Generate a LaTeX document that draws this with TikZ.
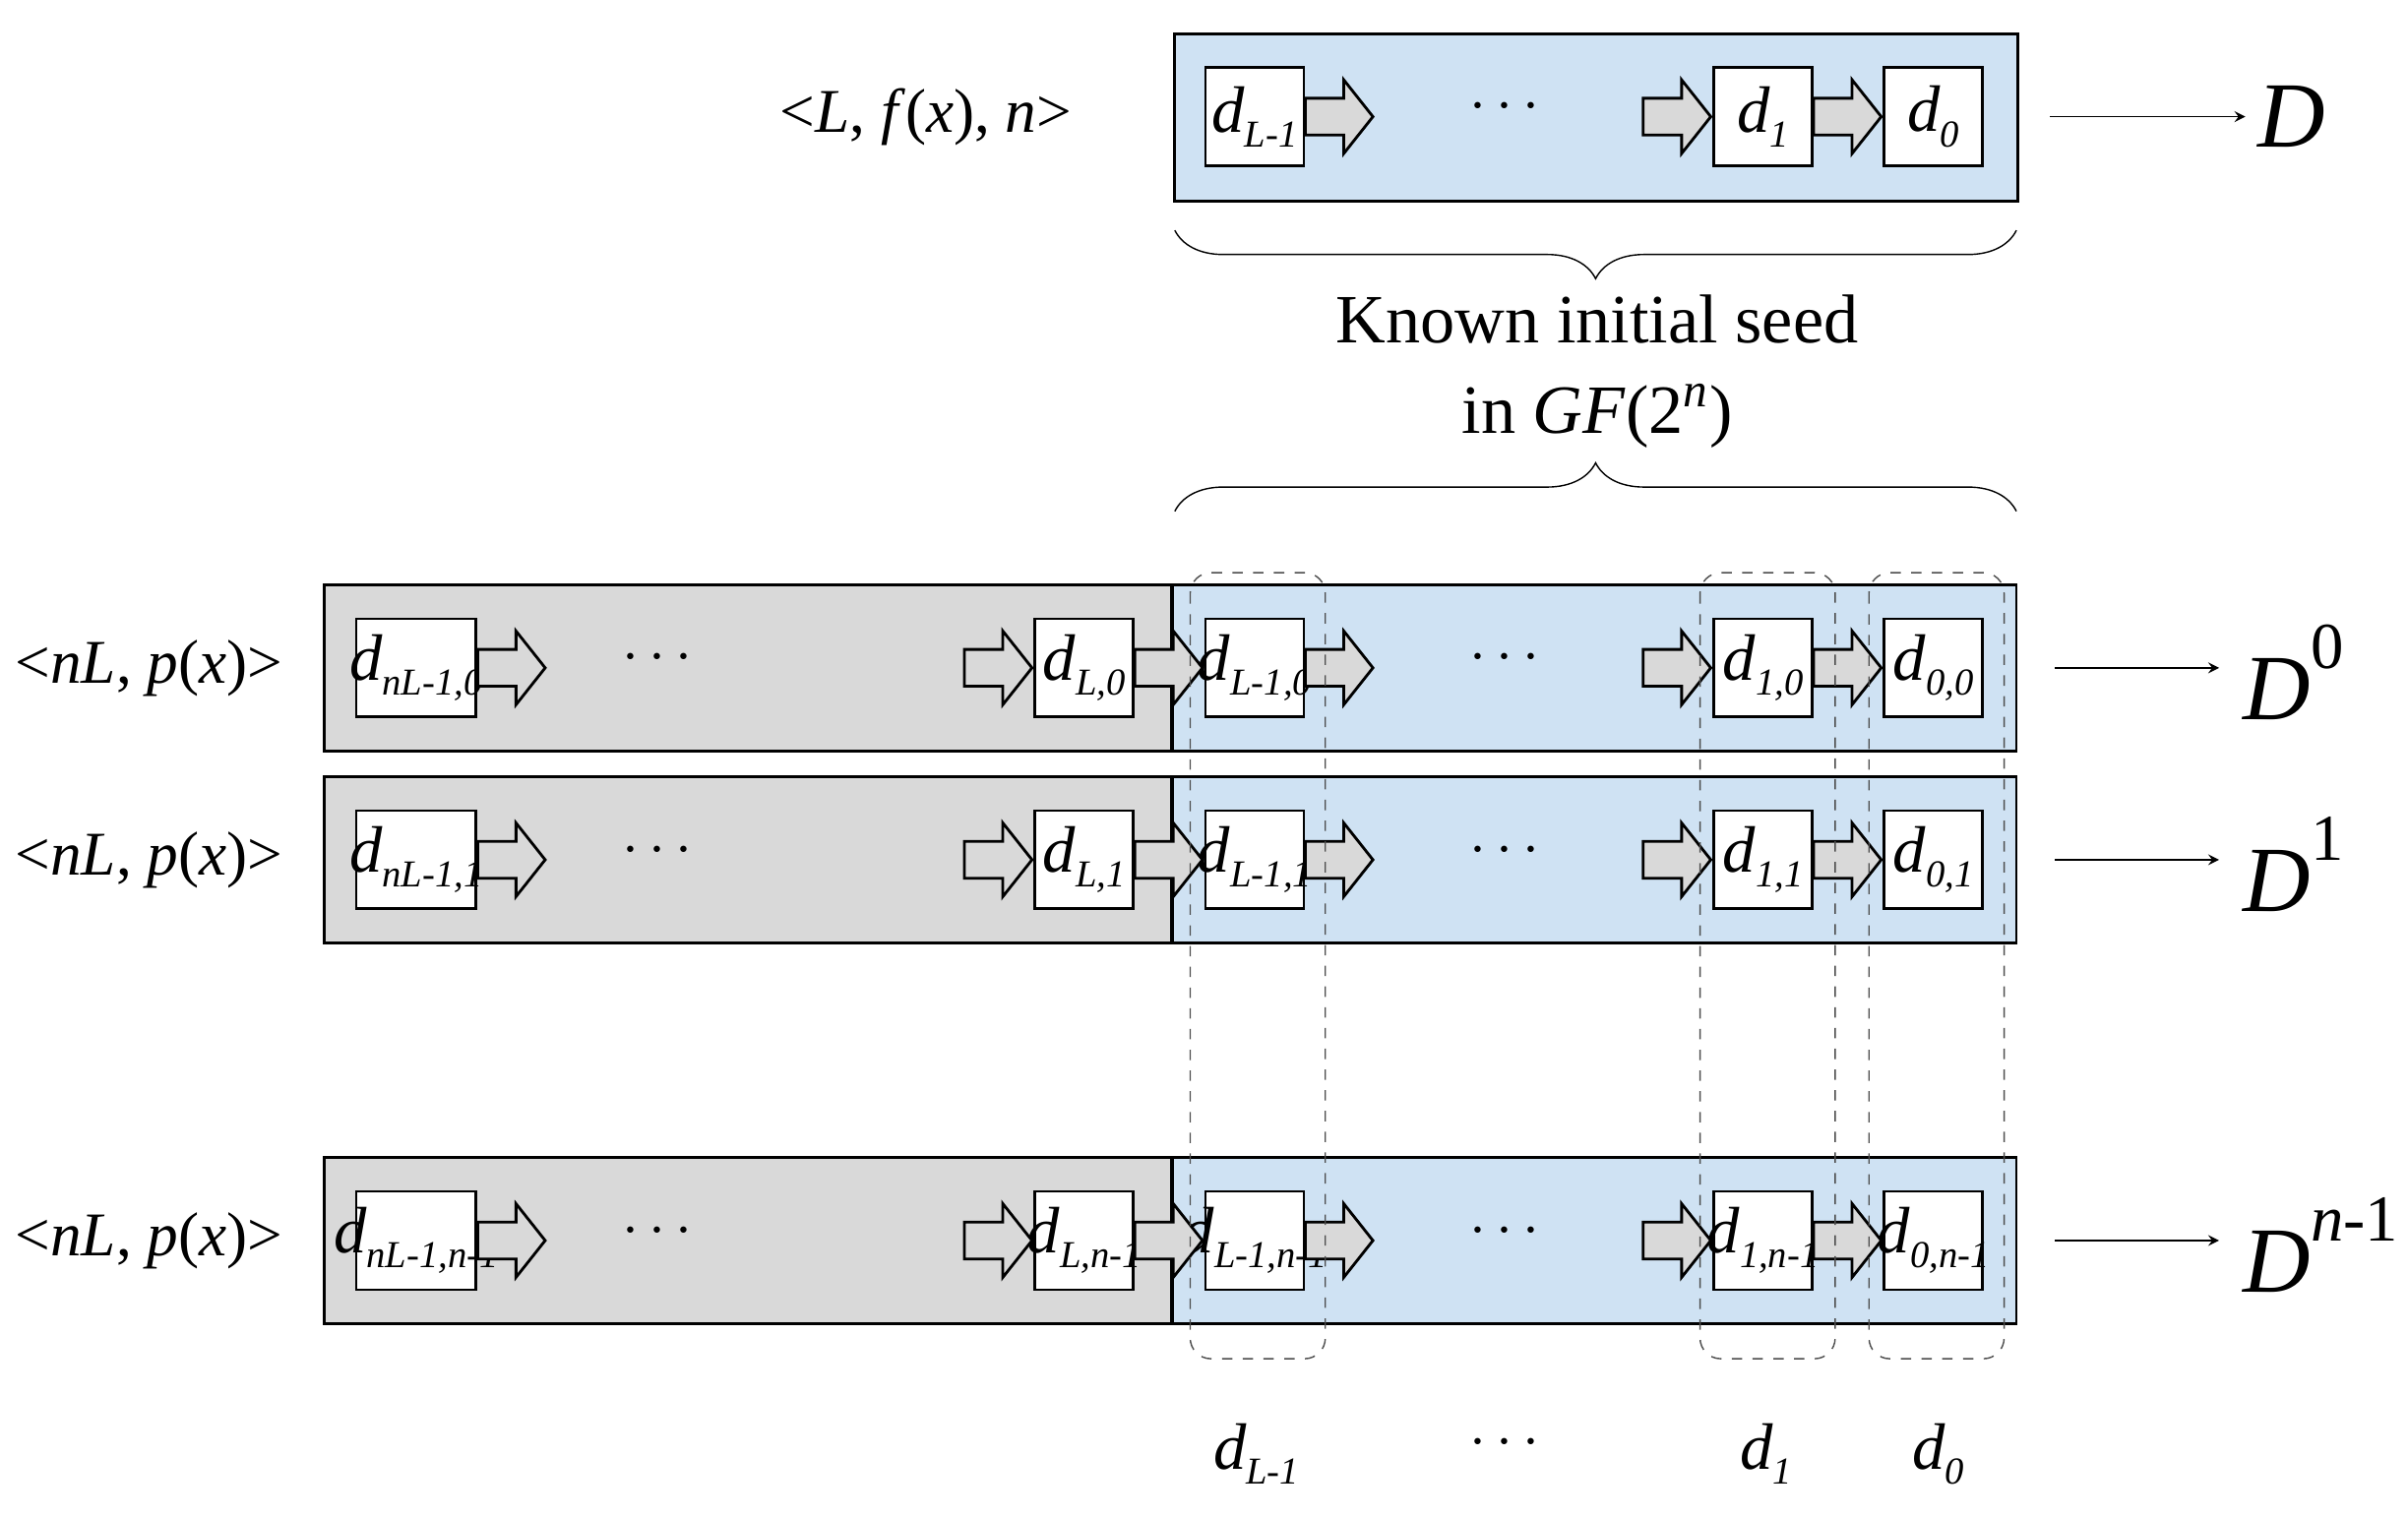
\documentclass[tikz,border=0pt]{standalone}
\usepackage{fontspec}
\setmainfont{Liberation Serif}
\usetikzlibrary{positioning,decorations.pathreplacing,calc}
\definecolor{seedblue}{RGB}{207,226,243}
\definecolor{regray}{RGB}{217,217,217}
\tikzset{
    >=stealth,
    cell/.style={draw, fill=white, thick, minimum width=64*0.1561mm,
        minimum height=64*0.1561mm, inner sep=0pt,
        font=\fontsize{19}{20}\selectfont\itshape},
    blue band/.style={draw, thick, fill=seedblue},
    gray band/.style={draw, thick, fill=regray},
    block/.style={draw, thick, fill=regray},
    dashed box/.style={draw, dashed, black!70, rounded corners=6pt},
    lbl/.style={font=\fontsize{18}{20}\selectfont},
    big/.style={font=\fontsize{27}{30}\selectfont\itshape},
    dots/.style={font=\fontsize{16}{18}\selectfont}
}
\newcommand{\blockarr}[2]{% left end x, center y
    \draw[block] (#1,#2-12) -- ++(25,0) -- ++(0,-12) -- ++(19,24)
        -- ++(-19,24) -- ++(0,-12) -- ++(-25,0) -- cycle;}
\newcommand{\dsub}[1]{\makebox[0pt]{\textit{d}\raisebox{-0.5ex}{\fontsize{11}{11}\selectfont\textit{#1}}}}
\begin{document}
\begin{tikzpicture}[x=0.1561mm, y=-0.1561mm]
\useasboundingbox (0,0) rectangle (1568,988);
% top register
\node[blue band, minimum width=549*0.1561mm, minimum height=109*0.1561mm,
    anchor=north west, inner sep=0pt] (seed) at (764,21) {};
\node[cell] (t2) at (817,76) {\dsub{L-1}};
\node[cell] (t1) at (1148,76) {\dsub{1}};
\node[cell] (t0) at (1259,76) {\dsub{0}};
\blockarr{850}{76}\blockarr{1070}{76}\blockarr{1181}{76}
\node[dots] (tdots) at (980,70) {$\cdots$};
\node[lbl] (tin) at (603,76) {<\textit{L}, \textit{f}(\textit{x}), \textit{n}>};
\node[big] (tout) at (1492,76) {D};
\draw[->] (1335,76) coordinate (ts) -- (tout.west);
% braces
\draw[decorate, decoration={brace, amplitude=14pt, mirror}] (765,150) -- (1313,150);
\node[font=\fontsize{20}{26}\selectfont, align=center] (seedtxt) at (1040,242)
    {Known initial seed\\in \textit{GF}(2\textsuperscript{\textit{n}})};
\draw[decorate, decoration={brace, amplitude=14pt}] (765,333) -- (1313,333);
% rows
\foreach \y/\s/\sup [count=\i] in {435/0/0, 560/1/1, 808/n-1/\textit{n}-1}{
    \draw[gray band] (211,\y-54) rectangle (763,\y+54);
    \draw[blue band] (763,\y-54) rectangle (1313,\y+54);
    \draw[very thick] (763,\y-54) -- (763,\y+54);
    \node[cell, minimum width=78*0.1561mm] (a\i) at (271,\y) {\dsub{nL-1,\s}};
    \node[cell] (b\i) at (706,\y) {\dsub{L,\s}};
    \node[cell] (c\i) at (817,\y) {\dsub{L-1,\s}};
    \node[cell] (e\i) at (1148,\y) {\dsub{1,\s}};
    \node[cell] (f\i) at (1259,\y) {\dsub{0,\s}};
    \blockarr{311}{\y}\blockarr{628}{\y}\blockarr{739}{\y}
    \blockarr{850}{\y}\blockarr{1070}{\y}\blockarr{1181}{\y}
    \node[dots] (g\i) at (428,\y-6) {$\cdots$};
    \node[dots] (h\i) at (980,\y-6) {$\cdots$};
    \node[lbl] (in\i) at (97,\y) {<\textit{nL}, \textit{p}(\textit{x})>};
    \node[big, anchor=west, inner sep=1pt] (out\i) at (1458,\y+3)
        {D\raisebox{1.2ex}{\upshape\fontsize{19}{19}\selectfont\sup}};
    \draw[->] (1338,\y) coordinate (s\i) -- (1445,\y);
}
% column groups
\draw[dashed box] (775,373) rectangle (863,885);
\draw[dashed box] (1107,373) rectangle (1195,885);
\draw[dashed box] (1217,373) rectangle (1305,885);
\node[cell, draw=none, fill=none] (col2) at (818,947) {\dsub{L-1}};
\node[dots] (col3) at (980,940) {$\cdots$};
\node[cell, draw=none, fill=none] (col1) at (1150,947) {\dsub{1}};
\node[cell, draw=none, fill=none] (col0) at (1262,947) {\dsub{0}};
\end{tikzpicture}
\end{document}
